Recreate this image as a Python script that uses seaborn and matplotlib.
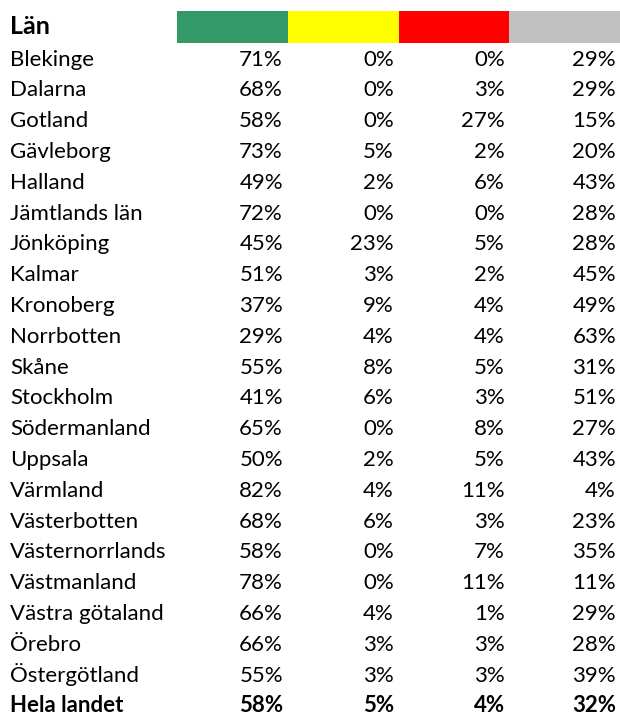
import matplotlib.pyplot as plt
import numpy as np
import seaborn as sns

from matplotlib.colors import ListedColormap

lan = ["Blekinge", "Dalarna", "Gotland", "Gävleborg", "Halland", "Jämtlands län",
       "Jönköping", "Kalmar", "Kronoberg", "Norrbotten", "Skåne", "Stockholm",
       "Södermanland", "Uppsala", "Värmland", "Västerbotten", "Västernorrlands",
       "Västmanland", "Västra götaland", "Örebro", "Östergötland"]
gron = [71, 68, 58, 73, 49, 72, 45, 51, 37, 29, 55, 41, 65, 50, 82, 68, 58, 78, 66, 66, 55]
gul = [0, 0, 0, 5, 2, 0, 23, 3, 9, 4, 8, 6, 0, 2, 4, 6, 0, 0, 4, 3, 3]
rod = [0, 3, 27, 2, 6, 0, 5, 2, 4, 4, 5, 3, 8, 5, 11, 3, 7, 11, 1, 3, 3]
gra = [29, 29, 15, 20, 43, 28, 28, 45, 49, 63, 31, 51, 27, 43, 4, 23, 35, 11, 29, 28, 39]
totalt = [58, 5, 4, 32]
colors = ['#339966', '#ffff00', '#ff0000', '#c0c0c0']

plt.rcParams['font.family'] = ['Lato', 'DejaVu Sans']

W, H = 620, 718
fig = plt.figure(figsize=(W / 100, H / 100), dpi=100)

# colour header
bar_ax = fig.add_axes([177 / W, 1 - 43 / H, (W - 177) / W, 32 / H])
sns.heatmap(np.array([[0, 1, 2, 3]]), cmap=ListedColormap(colors), cbar=False,
            ax=bar_ax, xticklabels=False, yticklabels=False)

ax = fig.add_axes([0, 0, 1, 1])
ax.set_xlim(0, W)
ax.set_ylim(H, 0)
ax.axis('off')

fs = 16
ax.text(10, 34, "Län", fontsize=18, fontweight='bold', va='baseline')
col_x = [283, 394, 505, 616]
y0, dy = 65.5, 30.8
for i, name in enumerate(lan):
    y = y0 + i * dy
    ax.text(10, y, name, fontsize=fs, va='baseline')
    for x, v in zip(col_x, [gron[i], gul[i], rod[i], gra[i]]):
        ax.text(x, y, f"{v}%", fontsize=fs, va='baseline', ha='right')

y = y0 + len(lan) * dy
ax.text(10, y, "Hela landet", fontsize=fs, fontweight='bold', va='baseline')
for x, v in zip(col_x, totalt):
    ax.text(x, y, f"{v}%", fontsize=fs, fontweight='bold', va='baseline', ha='right')

fig.savefig("out.png", dpi=100)
